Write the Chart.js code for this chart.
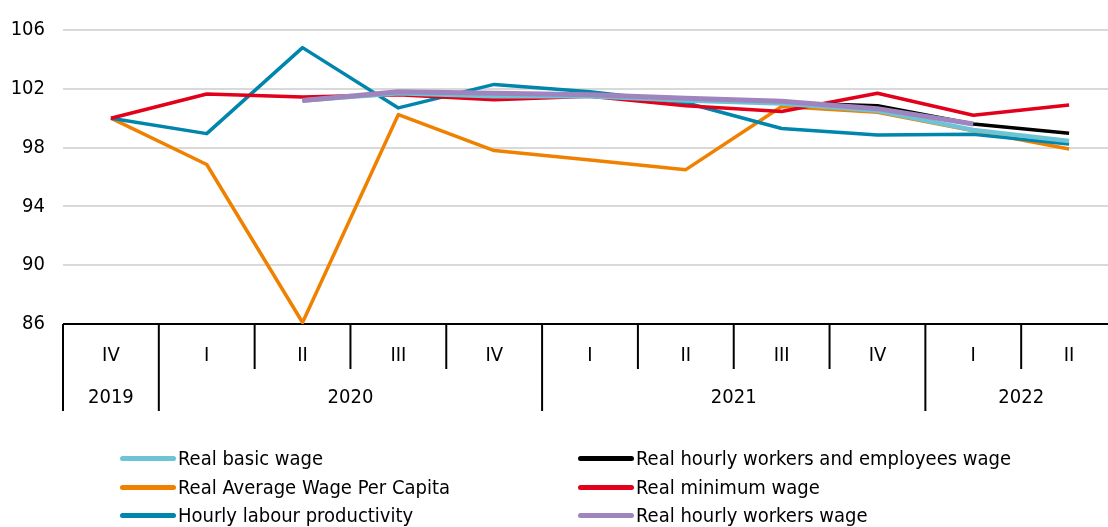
<!DOCTYPE html>
<html>
<head>
<meta charset="utf-8">
<script src="https://cdn.jsdelivr.net/npm/chart.js"></script>
<style>
  html, body { margin: 0; padding: 0; background: #fff; overflow: hidden; width: 1108px; height: 527px; }
  #wrap { position: relative; width: 1117px; height: 527px; }
  .lg { position: absolute; display: flex; align-items: center; height: 24px;
        font-family: 'Liberation Sans Narrow', 'DejaVu Sans Condensed', sans-serif; font-size: 20px; color: #000; white-space: nowrap; }
  .lg span.sw { display: inline-block; width: 56px; height: 5px; border-radius: 3px; margin-right: 2px; }
</style>
</head>
<body>
<div id="wrap">
  <canvas id="lineChart" width="1117" height="527"></canvas>
</div>
<script>
var quarters = ['IV', 'I', 'II', 'III', 'IV', 'I', 'II', 'III', 'IV', 'I', 'II'];
var years = ['2019', '2020', '2020', '2020', '2020', '2021', '2021', '2021', '2021', '2022', '2022'];

var basicWage = [null, null, 101.2, 101.7, 101.5, 101.5, 101.2, 101.0, 100.5, 99.2, 98.45];
var workersEmployeesWage = [null, null, 101.2, 101.75, 101.6, 101.5, 101.25, 101.05, 100.85, 99.6, 98.98];
var avgWagePerCapita = [100, 96.85, 86.1, 100.25, 97.8, 97.15, 96.5, 100.8, 100.4, 99.15, 97.9];
var minimumWage = [100, 101.65, 101.45, 101.6, 101.25, 101.5, 100.85, 100.45, 101.7, 100.2, 100.9];
var labourProductivity = [100, 98.95, 104.8, 100.7, 102.3, 101.8, 101.05, 99.3, 98.85, 98.9, 98.25];
var workersWage = [null, null, 101.2, 101.8, 101.7, 101.6, 101.35, 101.15, 100.65, 99.6, null];

var FONT = "'Liberation Sans Narrow', 'DejaVu Sans Condensed', sans-serif";

// two-level category axis drawn as a table under the plot
var quarterTable = {
    id: 'quarterTable',
    afterDraw: function (chart) {
        var ctx = chart.ctx;
        var x = chart.scales.x;
        var top = chart.chartArea.bottom;
        var step = x.getPixelForValue(1) - x.getPixelForValue(0);
        ctx.save();
        ctx.strokeStyle = '#000';
        ctx.lineWidth = 2;
        ctx.fillStyle = '#000';
        ctx.font = '20px ' + FONT;
        ctx.textAlign = 'center';
        ctx.textBaseline = 'middle';
        for (var i = 0; i < quarters.length; i++) {
            var left = x.getPixelForValue(i) - step / 2;
            var full = i === 0 || years[i] !== years[i - 1];
            ctx.beginPath();
            ctx.moveTo(left, top);
            ctx.lineTo(left, full ? 411 : 369);
            ctx.stroke();
            ctx.fillText(quarters[i], x.getPixelForValue(i), 356);
        }
        var start = 0;
        for (var j = 1; j <= years.length; j++) {
            if (j === years.length || years[j] !== years[start]) {
                var cx = (x.getPixelForValue(start) + x.getPixelForValue(j - 1)) / 2;
                ctx.fillText(years[start], cx, 398);
                start = j;
            }
        }
        ctx.restore();
    }
};

var ctx = document.getElementById('lineChart').getContext('2d');
var lineChart = new Chart(ctx, {
    type: 'line',
    data: {
        labels: quarters.map(function (q, i) { return years[i] + ' ' + q; }),
        datasets: [
            { label: 'Real basic wage', data: basicWage, borderColor: '#6cc4d6', borderWidth: 4.5, order: 1 },
            { label: 'Real hourly workers and employees wage', data: workersEmployeesWage, borderColor: '#000000', borderWidth: 3.5, order: 2 },
            { label: 'Real Average Wage Per Capita', data: avgWagePerCapita, borderColor: '#f08100', borderWidth: 3.5, order: 5 },
            { label: 'Real minimum wage', data: minimumWage, borderColor: '#e2001a', borderWidth: 3.5, order: 3 },
            { label: 'Hourly labour productivity', data: labourProductivity, borderColor: '#0085ad', borderWidth: 3.5, order: 4 },
            { label: 'Real hourly workers wage', data: workersWage, borderColor: '#a084bd', borderWidth: 5, order: 0 }
        ]
    },
    options: {
        responsive: false,
        animation: false,
        devicePixelRatio: 1,
        layout: { padding: { top: 25, bottom: 203, left: 0, right: 0 } },
        elements: {
            point: { radius: 0 },
            line: { tension: 0, fill: false, borderCapStyle: 'butt', borderJoinStyle: 'round' }
        },
        plugins: {
            legend: { display: false },
            tooltip: { enabled: false }
        },
        scales: {
            x: { type: 'category', offset: true, display: false },
            y: {
                min: 86,
                max: 106,
                afterFit: function (scale) { scale.width = 63; },
                border: { display: false },
                grid: {
                    drawTicks: false,
                    lineWidth: 2,
                    color: function (c) { return c.tick && c.tick.value === 86 ? '#000000' : '#d9d9d9'; }
                },
                ticks: {
                    stepSize: 4,
                    padding: 18,
                    color: '#000',
                    font: { family: FONT, size: 20 }
                }
            }
        }
    },
    plugins: [quarterTable]
});

// legend as html, two columns
var legendPos = [[120, 458], [578, 458], [120, 487], [578, 487], [120, 515], [578, 515]];
var wrap = document.getElementById('wrap');
lineChart.data.datasets.forEach(function (ds, i) {
    var item = document.createElement('div');
    item.className = 'lg';
    item.style.left = legendPos[i][0] + 'px';
    item.style.top = (legendPos[i][1] - 12) + 'px';
    var sw = document.createElement('span');
    sw.className = 'sw';
    sw.style.background = ds.borderColor;
    item.appendChild(sw);
    item.appendChild(document.createTextNode(ds.label));
    wrap.appendChild(item);
});
</script>
</body>
</html>
